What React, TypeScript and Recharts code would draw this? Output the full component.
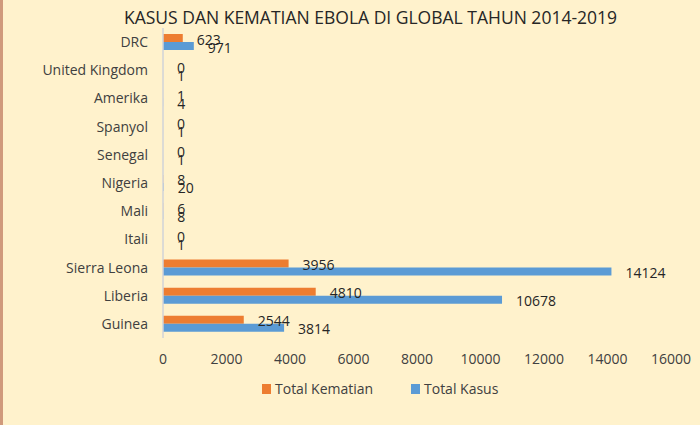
import React from "react";
import { BarChart, Bar, XAxis, YAxis, LabelList } from "recharts";

const countries = ["DRC", "United Kingdom", "Amerika", "Spanyol", "Senegal", "Nigeria", "Mali", "Itali", "Sierra Leona", "Liberia", "Guinea"];
const totalKematian = [623, 0, 1, 0, 0, 8, 6, 0, 3956, 4810, 2544];
const totalKasus = [971, 1, 4, 1, 1, 20, 8, 1, 14124, 10678, 3814];
const xTicks = [0, 2000, 4000, 6000, 8000, 10000, 12000, 14000, 16000];

const data = countries.map((c, i) => ({ name: c, kematian: totalKematian[i], kasus: totalKasus[i] }));

const FONT = "'Open Sans', sans-serif";
const ORANGE = "#ED7D31";
const BLUE = "#5B9BD5";

const renderValue = (props: any) => {
  const { x, y, width, height, value } = props;
  const xx = Number(x) + Number(width || 0) + 14;
  const yy = Number(y) + Number(height) / 2 + 1;
  return (
    <text x={xx} y={yy} dominantBaseline="central" fontFamily={FONT} fontSize={14} fill="#262626">
      {String(value)}
    </text>
  );
};

export default function App() {
  return (
    <div style={{ position: "absolute", left: 0, top: 0, width: 700, height: 425, background: "#FFF2CC", overflow: "hidden" }}>
      <div style={{ position: "absolute", left: 0, top: 0, width: 3, height: 425, background: "#D09A7C" }} />
      <div style={{ position: "absolute", left: 0, top: 5, width: 741, textAlign: "center", fontFamily: FONT, fontSize: 17.5, color: "#262626", lineHeight: "24px" }}>
        KASUS DAN KEMATIAN EBOLA DI GLOBAL TAHUN 2014-2019
      </div>
      <BarChart
        width={700}
        height={425}
        data={data}
        layout="vertical"
        margin={{ top: 28, right: 29, bottom: 57, left: 0 }}
        barGap={0}
        barSize={8}
        style={{ position: "absolute", left: 0, top: 0 }}
      >
        <XAxis
          type="number"
          domain={[0, 16000]}
          ticks={xTicks}
          height={30}
          axisLine={false}
          tickLine={false}
          tickSize={0}
          tickMargin={16}
          interval={0}
          tick={{ fontFamily: FONT, fontSize: 14, fill: "#404040" }}
        />
        <YAxis
          type="category"
          dataKey="name"
          width={163}
          axisLine={{ stroke: "#D0D3D8", strokeWidth: 1.5 }}
          tickLine={false}
          tickSize={0}
          tickMargin={15}
          interval={0}
          tick={{ fontFamily: FONT, fontSize: 14, fill: "#404040" }}
        />
        <Bar dataKey="kematian" name="Total Kematian" fill={ORANGE} minPointSize={0.01} isAnimationActive={false}>
          <LabelList dataKey="kematian" content={renderValue} />
        </Bar>
        <Bar dataKey="kasus" name="Total Kasus" fill={BLUE} minPointSize={0.01} isAnimationActive={false}>
          <LabelList dataKey="kasus" content={renderValue} />
        </Bar>
      </BarChart>
      <div style={{ position: "absolute", left: 0, top: 379, width: 700, height: 20, fontFamily: FONT, fontSize: 14, color: "#404040" }}>
        <div style={{ position: "absolute", left: 262, top: 5, width: 9, height: 10, background: ORANGE }} />
        <div style={{ position: "absolute", left: 275, top: 0, lineHeight: "20px" }}>Total Kematian</div>
        <div style={{ position: "absolute", left: 411, top: 5, width: 9, height: 10, background: BLUE }} />
        <div style={{ position: "absolute", left: 424, top: 0, lineHeight: "20px" }}>Total Kasus</div>
      </div>
    </div>
  );
}
